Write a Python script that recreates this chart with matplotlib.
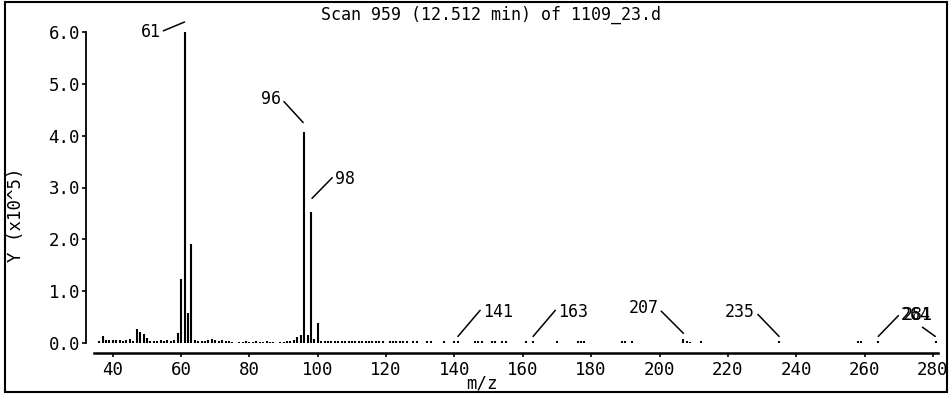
import matplotlib
matplotlib.use("Agg")
import matplotlib.pyplot as plt
from matplotlib.transforms import offset_copy
from matplotlib.patches import Rectangle

# mass spectrum (m/z, abundance in units of 1e5)
mz = [36, 37, 38, 39, 40, 41, 42, 43, 44, 45, 46, 47, 48, 49, 50, 51, 52, 53, 54, 55,
      56, 57, 58, 59, 60, 61, 62, 63, 64, 65, 66, 67, 68, 69, 70, 71, 72, 73, 74, 75,
      77, 78, 79, 80, 81, 82, 83, 84, 85, 86, 87, 89, 90, 91, 92, 93, 94, 95, 96, 97,
      98, 99, 100, 101, 102, 103, 104, 105, 106, 107, 108, 109, 110, 111, 112, 113, 114,
      115, 116, 117, 118, 119, 121, 122, 123, 124, 125, 126, 128, 129, 132, 133, 137,
      140, 141, 146, 147, 148, 151, 152, 154, 155, 161, 163, 170, 176, 177, 178, 189,
      190, 192, 207, 208, 209, 212, 235, 258, 259, 264, 281]
abund = [0.04, 0.13, 0.06, 0.05, 0.05, 0.06, 0.05, 0.04, 0.05, 0.07, 0.04, 0.27, 0.22, 0.18,
         0.09, 0.04, 0.03, 0.04, 0.05, 0.04, 0.06, 0.04, 0.05, 0.19, 1.24, 6.00, 0.58, 1.91,
         0.06, 0.03, 0.03, 0.04, 0.05, 0.07, 0.05, 0.03, 0.05, 0.03, 0.04, 0.02,
         0.02, 0.02, 0.03, 0.02, 0.02, 0.03, 0.02, 0.02, 0.03, 0.02, 0.02, 0.02, 0.02, 0.03,
         0.04, 0.06, 0.12, 0.15, 4.08, 0.16, 2.52, 0.08, 0.39, 0.03, 0.03, 0.03, 0.03, 0.03,
         0.03, 0.03, 0.03, 0.03, 0.03, 0.03, 0.03, 0.03, 0.03, 0.03, 0.03, 0.03, 0.03, 0.03,
         0.03, 0.03, 0.03, 0.03, 0.03, 0.03, 0.03, 0.03, 0.03, 0.03, 0.03, 0.03, 0.03, 0.03,
         0.03, 0.03, 0.03, 0.03, 0.03, 0.03, 0.03, 0.03, 0.03, 0.03, 0.03, 0.03, 0.03, 0.03,
         0.03, 0.07, 0.03, 0.02, 0.03, 0.03, 0.03, 0.03, 0.03, 0.03]

labeled = [61, 96, 98, 141, 163, 207, 235, 264, 281]

xticks = [40, 60, 80, 100, 120, 140, 160, 180, 200, 220, 240, 260, 280]
yticks = [0, 1, 2, 3, 4, 5, 6]
ytick_labels = ["0.0", "1.0", "2.0", "3.0", "4.0", "5.0", "6.0"]

title = "Scan 959 (12.512 min) of 1109_23.d"

# leader line placement in pixels: (gap dx, gap dy, text dx, text dy, ha, relpos)
label_style = {
    61: (0, 10, -24, -10, "right", (1, 0.5)),
    96: (-1, 9, -22, 24, "right", (1, 0.5)),
    98: (1, 14, 23, 19, "left", (0, 0.75)),
    141: (0, 5, 25, 24, "left", (0, 0.8)),
    163: (0, 5, 25, 24, "left", (0, 0.8)),
    207: (0, 6, -25, 25, "right", (1, 0.5)),
    235: (0, 5, -24, 24, "right", (1, 0.55)),
    264: (0, 5, 23, 21, "left", (0, 0.65)),
    281: (-1, 5, -33, 21, "left", (0, 0.65)),
}

plt.rcParams["font.family"] = ["DejaVu Sans Mono"]

fig = plt.figure(figsize=(9.52, 3.94), dpi=100)
ax = fig.add_axes([94 / 952, 51 / 394, 844 / 952, 311 / 394])

ax.vlines(mz, 0, abund, colors="black", lw=1.5)

height = dict(zip(mz, abund))
for m in labeled:
    gx, gy, tx, ty, ha, rp = label_style[m]
    tr = offset_copy(ax.transData, fig=fig, x=gx, y=gy, units="dots")
    ax.annotate(str(m), xy=(m, height[m]), xycoords=tr, xytext=(tx, ty),
                textcoords="offset pixels", ha=ha, va="center", fontsize=12,
                arrowprops=dict(arrowstyle="-", lw=1.1, color="black",
                                shrinkA=0, shrinkB=0, relpos=rp),
                annotation_clip=False)

ax.set_xlim(34.5, 281.5)
ax.set_ylim(0, 6.0)
ax.set_xticks(xticks)
ax.set_yticks(yticks)
ax.set_yticklabels(ytick_labels)
ax.tick_params(axis="both", direction="out", length=3, width=1.2, labelsize=12.5)
ax.tick_params(axis="y", pad=1)
ax.tick_params(axis="x", pad=3)

for s in ["top", "right"]:
    ax.spines[s].set_visible(False)
ax.spines["left"].set_position(("outward", 6))
ax.spines["bottom"].set_position(("outward", 7))
ax.spines["left"].set_linewidth(1.3)
ax.spines["bottom"].set_linewidth(1.8)
ax.patch.set_alpha(0)

fig.text(491 / 952, 1 - 15 / 394, title, ha="center", va="center", fontsize=12)
fig.text(16 / 952, 1 - 215 / 394, "Y (x10^5)", rotation=90, ha="center", va="center",
         fontsize=12.5)
fig.text(482 / 952, 1 - 384 / 394, "m/z", ha="center", va="center", fontsize=12.5)

fig.patches.append(Rectangle((5 / 952, 2 / 394), 942 / 952, 390 / 394,
                             transform=fig.transFigure, fill=False, lw=1.5,
                             ec="black"))

fig.savefig("out.png", dpi=100)
